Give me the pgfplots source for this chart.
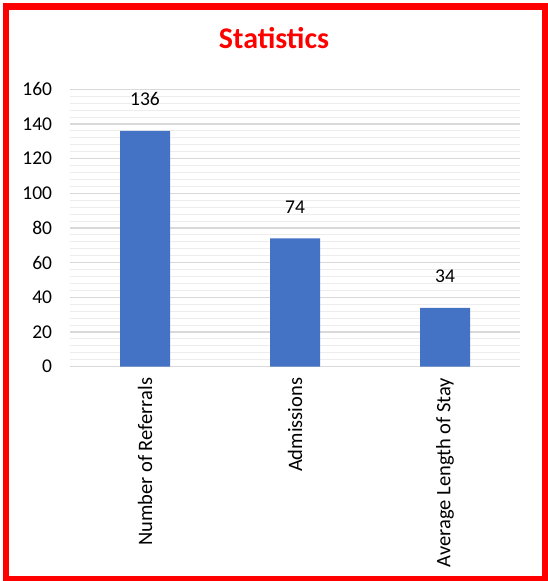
\documentclass[border=0pt]{standalone}
\usepackage{pgfplots}
\pgfplotsset{compat=1.18}
\usepackage{fontspec}
\setmainfont{Carlito}

\definecolor{barblue}{HTML}{4472C4}
\definecolor{gridmajor}{HTML}{D9D9D9}
\definecolor{gridminor}{HTML}{EDEDED}

\begin{document}
\begin{tikzpicture}[x=1pt,y=1pt]
\useasboundingbox (0,0) rectangle (548,581);
% red frame
\draw[red, line width=6.5pt] (6,1.5) rectangle (545.5,574.5);
% title
\node[font=\fontsize{30}{36}\selectfont\bfseries, text=red, anchor=base, inner sep=0pt]
  at (274,532) {Statistics};

\begin{axis}[
    at={(70pt,214.3pt)},
    anchor=south west,
    scale only axis,
    width=450pt,
    height=277.4pt,
    xmin=-0.5, xmax=2.5,
    ymin=0, ymax=160,
    xtick={0,1,2},
    xticklabels={Number of Referrals,Admissions,Average Length of Stay},
    ytick={0,20,...,160},
    minor y tick num=4,
    ymajorgrids, yminorgrids,
    major grid style={draw=gridmajor, line width=1.3pt},
    minor grid style={draw=gridminor, line width=1pt},
    axis line style={draw=none},
    tick style={draw=none},
    major tick length=0pt,
    minor tick length=0pt,
    /pgf/number format/assume math mode=true,
    tick label style={font=\fontsize{19.5}{23}\selectfont, text=black},
    yticklabel style={anchor=east, inner sep=0pt, xshift=-17.7pt},
    xticklabel style={yshift=-11pt, rotate=90, anchor=east, inner sep=0pt,
        font=\fontsize{20.5}{24}\selectfont},
    ybar,
    bar width=50pt,
    nodes near coords,
    every node near coord/.style={anchor=base, inner sep=0pt, yshift=25pt,
        font=\fontsize{19.5}{23}\selectfont, text=black},
]
\addplot[fill=barblue, draw=none] coordinates {(0,136) (1,74) (2,34)};
\end{axis}
\end{tikzpicture}
\end{document}
